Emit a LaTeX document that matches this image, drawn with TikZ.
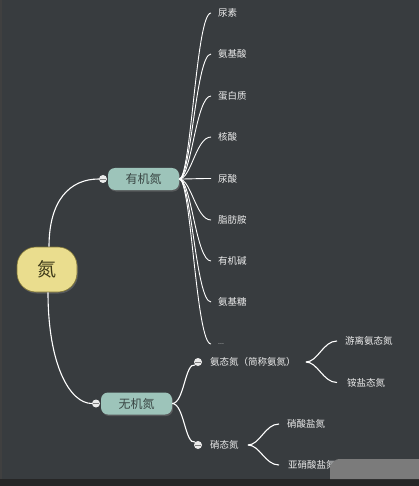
\documentclass[tikz,border=0pt]{standalone}
\usepackage{fontspec}
\setmainfont{Noto Sans CJK SC}
\usetikzlibrary{positioning,shadows}

\definecolor{bgdark}{HTML}{383C3F}
\definecolor{rootfill}{HTML}{EADD8E}
\definecolor{rootline}{HTML}{7E7436}
\definecolor{roottext}{HTML}{3E3A1A}
\definecolor{branchfill}{HTML}{9DC4BA}
\definecolor{branchtext}{HTML}{3A4644}
\definecolor{leaftext}{HTML}{EDEDED}

\begin{document}
\begin{tikzpicture}[
        x=1pt, y=-1pt,
        root/.style={rectangle, rounded corners=19pt, draw=rootline, line width=0.6pt, fill=rootfill, minimum width=60pt, minimum height=45pt, inner sep=0pt, font=\fontsize{19}{19}\selectfont, text=roottext, drop shadow={opacity=0.45, shadow xshift=1pt, shadow yshift=-1.5pt}},
        branch/.style={rectangle, rounded corners=7pt, fill=branchfill, minimum width=71pt, minimum height=22pt, inner sep=0pt, font=\fontsize{12}{12}\selectfont, text=branchtext, drop shadow={opacity=0.45, shadow xshift=1pt, shadow yshift=-1.5pt}},
        leaf/.style={anchor=west, inner sep=0pt, font=\fontsize{9.5}{10}\selectfont, text=leaftext},
        fold/.style={circle, fill=white!92!black, minimum size=8pt, inner sep=0pt,
          path picture={\draw[gray, line width=0.9pt] ([xshift=-2.6pt]path picture bounding box.center) -- ([xshift=2.6pt]path picture bounding box.center);}},
        link/.style={draw=white, line width=1.1pt}
      ]

      % page, dark backdrop
      \useasboundingbox (0,0) rectangle (419,486);
      \fill[bgdark] (0,0) rectangle (419,486);
      \fill[black!75] (0,0) rectangle (2,486);
      \fill[black!85] (0,479) rectangle (419,486);

      % centre and the two main branches
      \node[root] (nitro) at (47,269.5) {氮};
      \node[branch] (organic) at (143.5,179) {有机氮};
      \node[branch] (inorganic) at (136.5,403.5) {无机氮};
      \node[fold] (orgfold) at (103,179) {};
      \node[fold] (inorgfold) at (96,403.5) {};

      \draw[link] ([xshift=2pt]nitro.north) .. controls (49,200) and (70,179) .. (orgfold.west);
      \draw[link] ([xshift=1pt]nitro.south) .. controls (48,365) and (70,403.5) .. (inorgfold.west);

      % organic nitrogen
      \node[leaf] (urea) at (218,13) {尿素};
      \node[leaf] (amino) at (218,54) {氨基酸};
      \node[leaf] (protein) at (218,96) {蛋白质};
      \node[leaf] (nucleic) at (218,137) {核酸};
      \node[leaf] (uric) at (218,178.5) {尿酸};
      \node[leaf] (amine) at (218,220) {脂肪胺};
      \node[leaf] (alkali) at (218,261) {有机碱};
      \node[leaf] (sugar) at (218,302) {氨基糖};
      \node[leaf, font=\fontsize{7}{7}\selectfont] (more) at (218,344) {...};

      \foreach \leafname in {urea,amino,protein,nucleic,uric,amine,alkali,sugar,more}
        \draw[link, line width=0.9pt] (organic.east) .. controls +(12,0) and ([xshift=-22pt]\leafname.west) .. ([xshift=-7pt]\leafname.west);

      % inorganic nitrogen
      \node[fold] (ammfold) at (198,362) {};
      \node[fold] (nitfold) at (198,445) {};
      \node[leaf] (ammonium) at (210,362) {氨态氮（简称氨氮）};
      \node[leaf] (nitrate) at (210,445) {硝态氮};

      \draw[link] (inorganic.east) .. controls +(12,0) and (185,362) .. (ammfold.south west);
      \draw[link] (inorganic.east) .. controls +(12,0) and (185,445) .. (nitfold.north west);

      \node[leaf] (freeamm) at (345,341) {游离氨态氮};
      \node[leaf] (saltamm) at (347,382.5) {铵盐态氮};
      \node[leaf] (nitsalt) at (287,424) {硝酸盐氮};
      \node[leaf] (nitrite) at (288,465) {亚硝酸盐氮};

      \draw[link] ([xshift=10pt]ammonium.east) .. controls +(12,0) and +(-14,0) .. ([xshift=-8pt]freeamm.west);
      \draw[link] ([xshift=10pt]ammonium.east) .. controls +(12,0) and +(-14,0) .. ([xshift=-10pt]saltamm.west);
      \draw[link] ([xshift=9pt]nitrate.east) .. controls +(12,0) and +(-14,0) .. ([xshift=-8pt]nitsalt.west);
      \draw[link] ([xshift=9pt]nitrate.east) .. controls +(12,0) and +(-14,0) .. ([xshift=-9pt]nitrite.west);

      % grey patch over the lower right corner
      \fill[gray!85!black!90] (336,459) -- (419,459) -- (419,479) -- (330,479) -- (330,466) [rounded corners=3pt] -- cycle;

    \end{tikzpicture}
\end{document}
